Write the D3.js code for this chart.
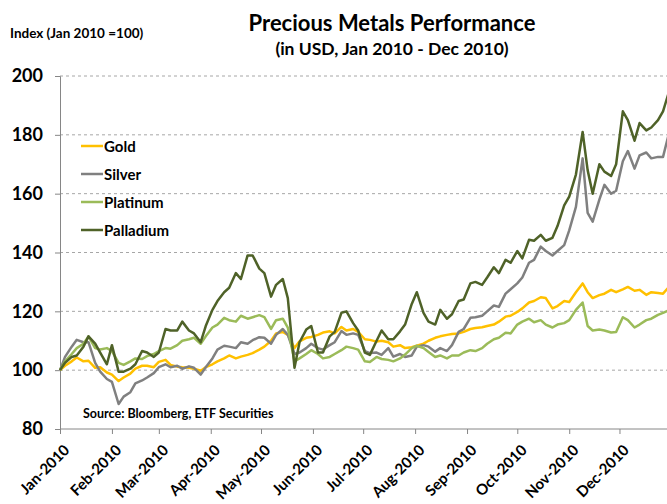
<!DOCTYPE html>
<html>
<head>
<meta charset="utf-8">
<script src="https://cdn.jsdelivr.net/npm/d3@7"></script>
<style>
  body { margin: 0; background: #fff; }
  text { font-family: Lato, "Open Sans", sans-serif; font-weight: bold; fill: #000; }
</style>
</head>
<body>
<div id="chart"></div>
<script>
// twice-weekly observation dates (2010)
var dates = [
  '01-01','01-04','01-08','01-11','01-15','01-18','01-22','01-25','01-29',
  '02-01','02-05','02-08','02-12','02-15','02-19','02-22','02-26',
  '03-01','03-05','03-08','03-12','03-15','03-19','03-22','03-26','03-29',
  '04-02','04-05','04-09','04-12','04-16','04-19','04-23','04-26','04-30',
  '05-03','05-07','05-10','05-14','05-17','05-21','05-24','05-28','05-31',
  '06-04','06-07','06-11','06-14','06-18','06-21','06-25','06-28',
  '07-02','07-05','07-09','07-12','07-16','07-19','07-23','07-26','07-30',
  '08-02','08-06','08-09','08-13','08-16','08-20','08-23','08-27','08-30',
  '09-03','09-06','09-10','09-13','09-17','09-20','09-24','09-27',
  '10-01','10-04','10-08','10-11','10-15','10-18','10-22','10-25','10-29',
  '11-01','11-05','11-09','11-12','11-15','11-19','11-22','11-26','11-29',
  '12-03','12-06','12-10','12-13','12-17','12-20','12-24','12-27','12-31'
];

var gold = [
  100, 101.5, 103, 104.3, 103, 103.2, 100.8, 101, 99.2, 98.5,
  96.3, 97.5, 98.8, 100.5, 101.5, 101.5, 101, 102.8, 103.5, 101.8,
  101.2, 101, 100.8, 100.5, 99.8, 101, 102, 103, 104, 105,
  104, 104.6, 105.2, 105.8, 107, 108, 110, 112.5, 113, 112,
  107.5, 109.8, 111, 111.3, 112, 112.8, 113.2, 112.5, 114.7, 113.5,
  114, 113, 110.5, 110.3, 109.7, 110, 109.5, 108, 108.5, 107.5,
  107.8, 108.3, 109, 110, 111, 111.5, 112, 112.3, 112.5, 113,
  114, 114.3, 114.6, 115, 115.5, 116.5, 118.2, 118.5, 119.8, 121,
  123, 123.5, 124.8, 124.5, 121, 121.8, 123.5, 123.2, 126.5, 129.5,
  126.5, 124.5, 125.5, 126, 127.3, 126.5, 127.5, 128.3, 127, 127.3,
  125.6, 126.5, 126.2, 126, 128.6
];

var silver = [
  100, 104.5, 108, 110.3, 109.5, 109.5, 102.5, 99.5, 97, 96,
  88.5, 91, 92.5, 95.5, 96.5, 97.5, 99, 101, 102, 101,
  101.5, 100.5, 101.3, 100.8, 98.5, 101, 104, 107, 108.3, 108,
  107.5, 109.5, 109, 110.2, 111.2, 111, 109, 112, 114, 112,
  105.5, 106, 107.5, 109, 107.5, 107, 108.5, 109.5, 113.3, 112,
  112.5, 112, 106.5, 105.8, 106, 105.2, 107.5, 104.6, 105.5, 104.5,
  105, 108, 108.5, 108, 106.3, 107.5, 106.5, 108.5, 113, 114,
  117.8, 118, 118.5, 120, 122, 121.5, 126, 127.5, 129.5, 131.5,
  136.5, 137.5, 142, 140.5, 139, 140.5, 142.5, 147.5, 155.5, 172,
  153.5, 150.5, 158, 163, 160, 161, 171, 174.5, 168.5, 173,
  174, 172, 172.5, 172.5, 181.5
];

var platinum = [
  100, 103, 105.5, 107.5, 109, 111.5, 107.5, 107, 107.5, 106.5,
  102.5, 101.8, 103, 104, 103.8, 104.8, 105.5, 106.5, 107.5, 107.3,
  108.5, 110, 110.5, 111, 109, 111.5, 114.5, 115.5, 117.8, 117,
  116.5, 118.5, 117.5, 118, 118.7, 118, 114, 117, 117.5, 114.5,
  103, 104, 105.5, 106.8, 105.5, 104, 104.5, 105.5, 106.8, 108,
  107.5, 107, 103, 102.8, 104.5, 103.8, 103.5, 103, 104, 105.3,
  107.5, 108.3, 107.5, 106.2, 104.5, 105, 104, 105, 105, 106,
  106.8, 106.5, 107.5, 109, 110.5, 111, 112.7, 112.5, 115.5, 116.5,
  117.5, 116.3, 117, 115.5, 114.5, 115.5, 116, 117, 120.5, 123,
  115, 113.5, 113.8, 113.5, 112.8, 113, 118, 117, 114.5, 115.5,
  117, 117.5, 118.8, 119.5, 120.5
];

var palladium = [
  100, 102.5, 104.5, 105, 108, 111.5, 109, 106, 102, 108.5,
  99.5, 99.5, 100.5, 102, 106.5, 106, 104.5, 106, 114, 113.5,
  113.5, 116.5, 113.5, 112.5, 109.5, 115, 120.5, 123.5, 126.5, 128,
  133, 131, 139, 139, 134.5, 133, 125, 129, 131, 124.5,
  100.8, 109.5, 113.8, 115, 106, 106, 111.5, 113, 119.5, 120,
  116, 113.5, 106, 105.2, 110, 113.5, 110.5, 110.5, 113.2, 115.5,
  122.5, 126.5, 119.5, 116.5, 115.5, 120.5, 117.5, 119, 123.5, 124,
  129.5, 130, 129, 131.5, 135, 133, 137.5, 136.5, 140.5, 138,
  144.3, 144, 146, 144, 145, 149, 156, 159, 166.5, 181,
  168, 160, 170, 167.5, 166, 170, 188, 185, 178, 184,
  181.5, 182.5, 185, 188, 195.5
];

var seriesNames = ['Gold', 'Silver', 'Platinum', 'Palladium'];
var seriesColors = ['#FFC000', '#808080', '#9BBB59', '#4F6228'];
var yTicks = [80, 100, 120, 140, 160, 180, 200];
var monthLabels = ['Jan-2010','Feb-2010','Mar-2010','Apr-2010','May-2010','Jun-2010',
  'Jul-2010','Aug-2010','Sep-2010','Oct-2010','Nov-2010','Dec-2010'];

var width = 667, height = 504;
var parse = d3.utcParse('%Y-%m-%d');
var days = dates.map(function(d) { return parse('2010-' + d); });

var svg = d3.select('#chart').append('svg')
  .attr('width', width).attr('height', height);

var x = d3.scaleUtc()
  .domain([parse('2010-01-01'), parse('2011-01-01')])
  .range([60, 671.4]);
var y = d3.scaleLinear().domain([80, 200]).range([429, 76]);

// titles
svg.append('text').attr('x', 392).attr('y', 31).attr('text-anchor', 'middle')
  .style('font-size', '22px').text('Precious Metals Performance');
svg.append('text').attr('x', 392).attr('y', 55).attr('text-anchor', 'middle')
  .style('font-size', '17.5px').text('(in USD, Jan 2010 - Dec 2010)');
svg.append('text').attr('x', 10).attr('y', 38)
  .style('font-size', '13.5px').text('Index (Jan 2010 =100)');

// gridlines
svg.append('g').selectAll('line')
  .data(yTicks.filter(function(t) { return t > 80; }))
  .enter().append('line')
  .attr('x1', 60).attr('x2', width)
  .attr('y1', function(d) { return y(d); })
  .attr('y2', function(d) { return y(d); })
  .attr('stroke', '#a6a6a6').attr('stroke-dasharray', '3,3');

// y axis
var yAxis = d3.axisLeft(y).tickValues(yTicks).tickSize(5).tickPadding(12);
var gy = svg.append('g').attr('transform', 'translate(60,0)').call(yAxis);
gy.select('.domain').attr('stroke', '#868686');
gy.selectAll('.tick line').attr('stroke', '#868686');
gy.selectAll('text').style('font-size', '18px').style('font-family', 'Lato, sans-serif')
  .style('font-weight', 'bold').attr('fill', '#000');

// x axis
var monthTicks = d3.utcMonth.range(parse('2010-01-01'), parse('2011-01-01'));
var xAxis = d3.axisBottom(x).tickValues(monthTicks).tickSize(5)
  .tickFormat(function(d, i) { return monthLabels[i]; });
var gx = svg.append('g').attr('transform', 'translate(0,429)').call(xAxis);
gx.select('.domain').attr('stroke', '#868686').attr('d', 'M60,0H' + width);
gx.selectAll('.tick line').attr('stroke', '#868686');
gx.selectAll('text')
  .style('font-size', '15px').style('font-family', 'Lato, sans-serif')
  .style('font-weight', 'bold').attr('fill', '#000')
  .attr('text-anchor', 'end')
  .attr('dy', null).attr('y', 0)
  .attr('transform', 'translate(10,22) rotate(-45)');

// lines
var seriesData = [gold, silver, platinum, palladium];
var line = d3.line()
  .x(function(d, i) { return x(days[i]); })
  .y(function(d) { return y(d); });

svg.append('g').selectAll('path')
  .data(seriesData)
  .enter().append('path')
  .attr('d', line)
  .attr('fill', 'none')
  .attr('stroke', function(d, i) { return seriesColors[i]; })
  .attr('stroke-width', 2.5)
  .attr('stroke-linejoin', 'round');

// legend
var legend = svg.append('g').selectAll('g')
  .data(seriesNames)
  .enter().append('g')
  .attr('transform', function(d, i) { return 'translate(81,' + (146 + i * 28) + ')'; });
legend.append('line')
  .attr('x1', 0).attr('x2', 22).attr('y1', 0).attr('y2', 0)
  .attr('stroke', function(d, i) { return seriesColors[i]; })
  .attr('stroke-width', 2.5);
legend.append('text')
  .attr('x', 23).attr('y', 5.5)
  .style('font-size', '15px')
  .text(function(d) { return d; });

svg.append('text').attr('x', 83).attr('y', 418)
  .style('font-size', '12.5px').text('Source: Bloomberg, ETF Securities');
</script>
</body>
</html>
